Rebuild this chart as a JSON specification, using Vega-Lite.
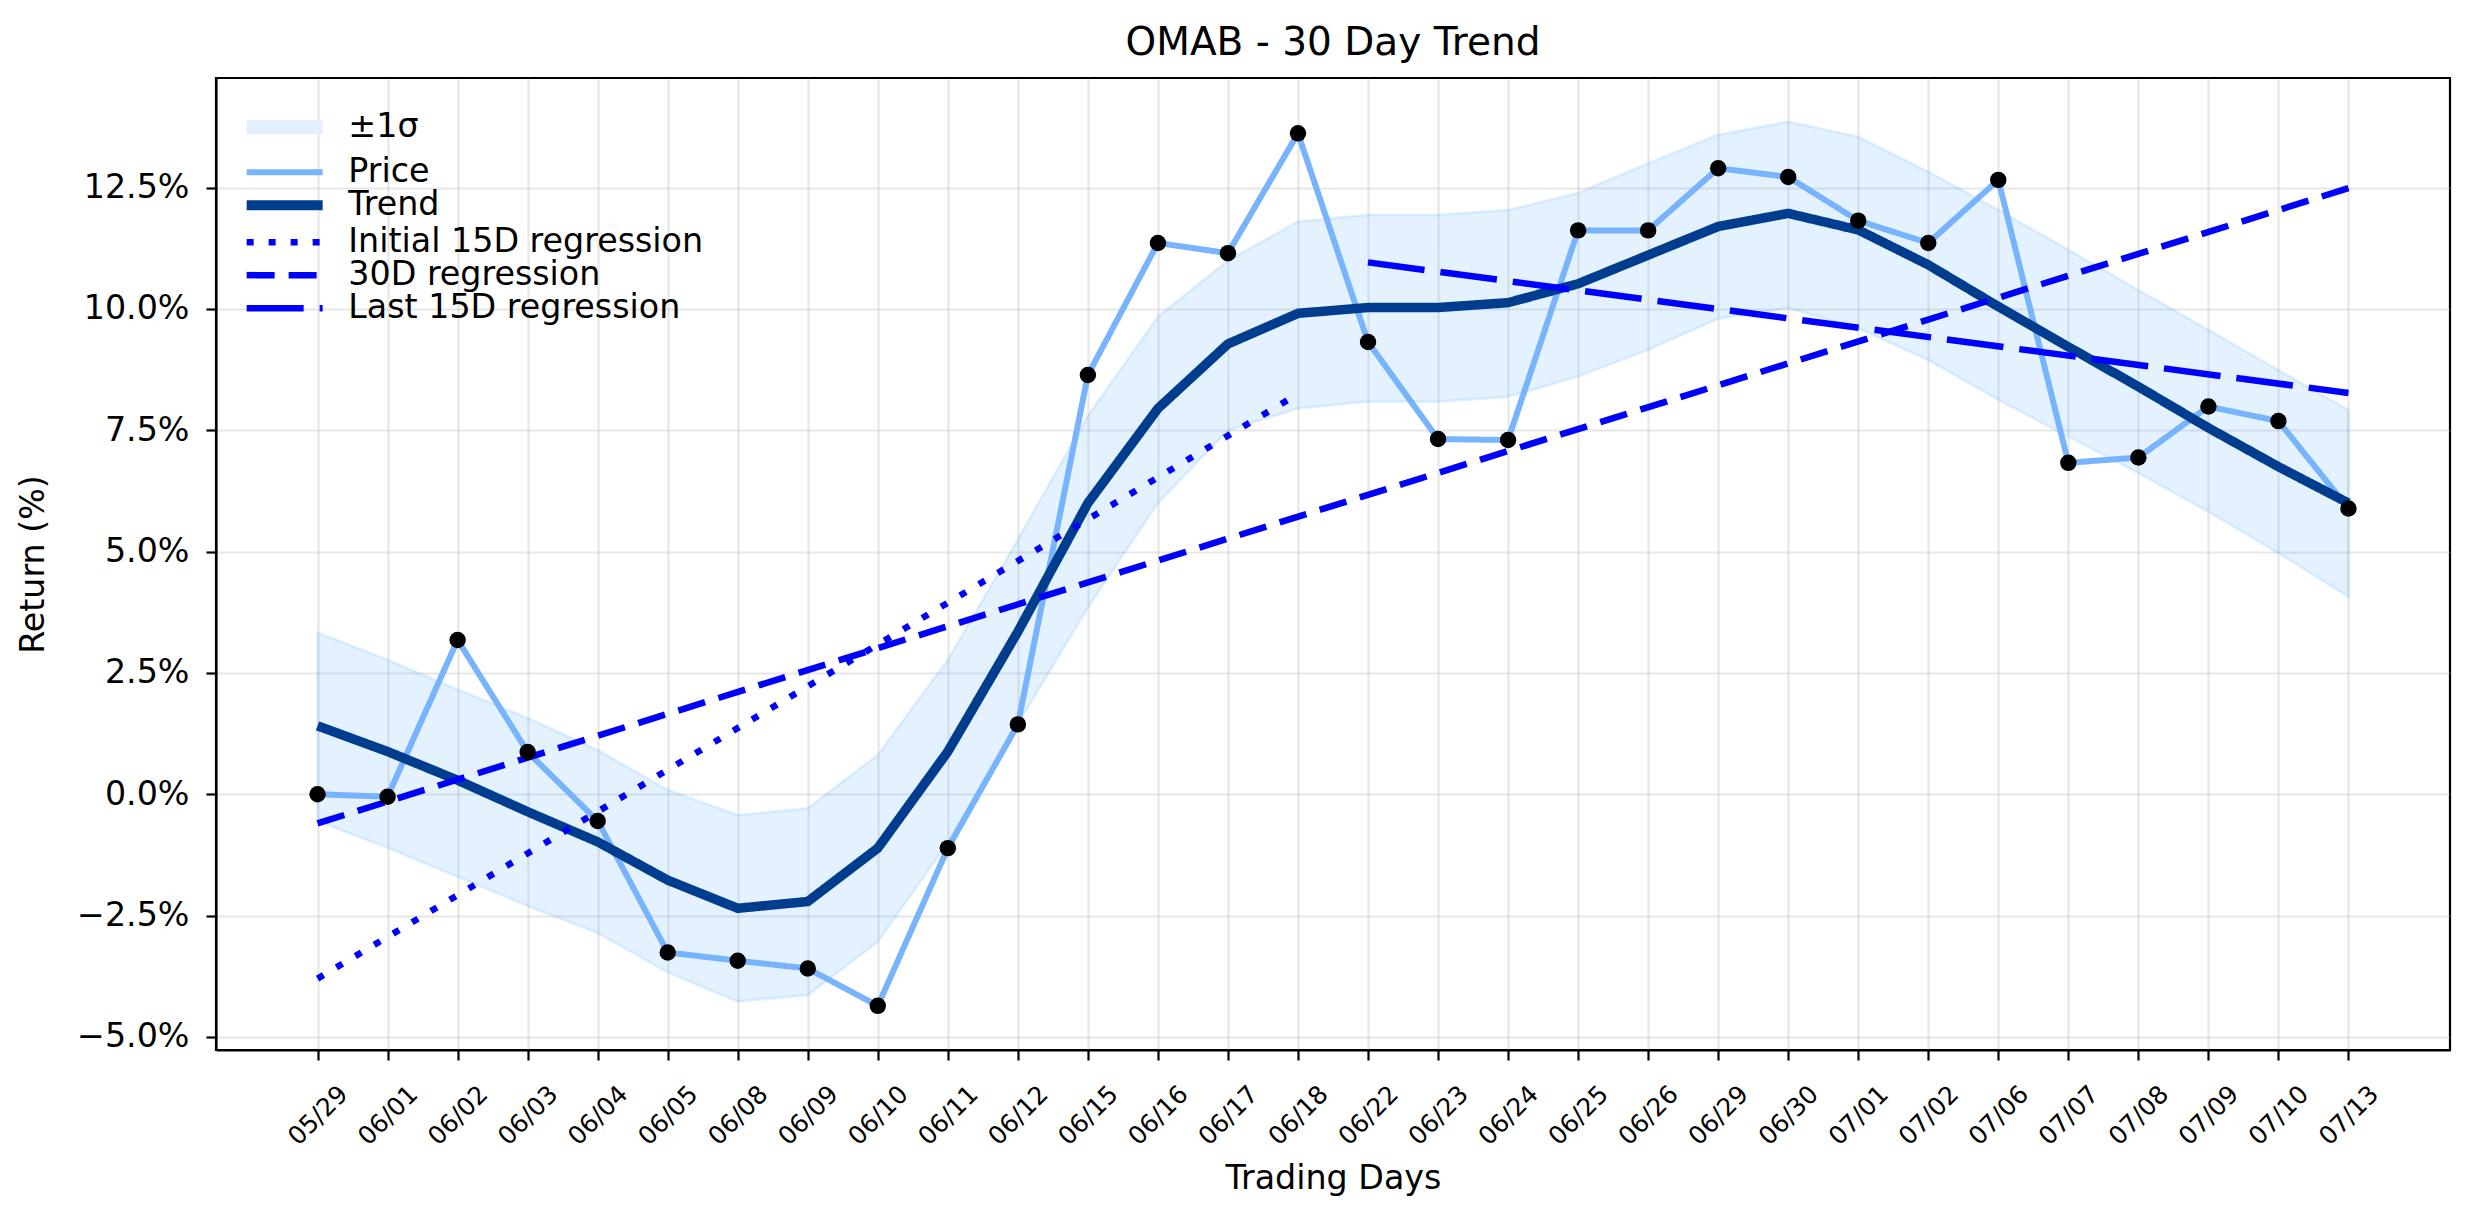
{
  "$schema": "https://vega.github.io/schema/vega-lite/v6.json",
  "autosize": {"type": "none"},
  "padding": {"left": 216, "top": 78, "right": 24, "bottom": 174},
  "width": 2234,
  "height": 972,
  "title": {"text": "OMAB - 30 Day Trend", "fontSize": 39, "fontWeight": "normal", "font": "DejaVu Sans", "anchor": "middle", "offset": 12, "baseline": "bottom", "dy": 36, "color": "black"},
  "config": {
    "font": "DejaVu Sans",
    "view": {"stroke": "black", "strokeWidth": 2.2},
    "axis": {"domain": true, "domainColor": "black", "domainWidth": 2.2, "tickColor": "black", "tickWidth": 2.2, "tickSize": 10, "labelColor": "black", "titleColor": "black", "titleFontWeight": "normal", "titleFont": "DejaVu Sans", "labelFont": "DejaVu Sans", "gridColor": "#b0b0b0", "gridOpacity": 0.3, "gridWidth": 2.2}
  },
  "datasets": {
    "main": [
      {"i": 0, "d": "05/29", "price": 0.00, "trend": 1.41, "lo": -0.55, "hi": 3.33},
      {"i": 1, "d": "06/01", "price": -0.05, "trend": 0.88, "lo": -1.10, "hi": 2.77},
      {"i": 2, "d": "06/02", "price": 3.18, "trend": 0.29, "lo": -1.70, "hi": 2.16},
      {"i": 3, "d": "06/03", "price": 0.87, "trend": -0.36, "lo": -2.30, "hi": 1.57},
      {"i": 4, "d": "06/04", "price": -0.55, "trend": -0.98, "lo": -2.86, "hi": 0.91},
      {"i": 5, "d": "06/05", "price": -3.26, "trend": -1.77, "lo": -3.67, "hi": 0.09},
      {"i": 6, "d": "06/08", "price": -3.43, "trend": -2.35, "lo": -4.27, "hi": -0.43},
      {"i": 7, "d": "06/09", "price": -3.59, "trend": -2.21, "lo": -4.14, "hi": -0.29},
      {"i": 8, "d": "06/10", "price": -4.36, "trend": -1.11, "lo": -3.04, "hi": 0.81},
      {"i": 9, "d": "06/11", "price": -1.11, "trend": 0.88, "lo": -1.00, "hi": 2.77},
      {"i": 10, "d": "06/12", "price": 1.44, "trend": 3.35, "lo": 1.45, "hi": 5.25},
      {"i": 11, "d": "06/15", "price": 8.64, "trend": 6.00, "lo": 3.85, "hi": 7.80},
      {"i": 12, "d": "06/16", "price": 11.36, "trend": 7.95, "lo": 6.00, "hi": 9.84},
      {"i": 13, "d": "06/17", "price": 11.15, "trend": 9.28, "lo": 7.50, "hi": 11.00},
      {"i": 14, "d": "06/18", "price": 13.62, "trend": 9.91, "lo": 7.95, "hi": 11.80},
      {"i": 15, "d": "06/22", "price": 9.32, "trend": 10.03, "lo": 8.09, "hi": 11.94},
      {"i": 16, "d": "06/23", "price": 7.32, "trend": 10.03, "lo": 8.09, "hi": 11.94},
      {"i": 17, "d": "06/24", "price": 7.30, "trend": 10.13, "lo": 8.19, "hi": 12.04},
      {"i": 18, "d": "06/25", "price": 11.62, "trend": 10.52, "lo": 8.61, "hi": 12.39},
      {"i": 19, "d": "06/26", "price": 11.62, "trend": 11.11, "lo": 9.16, "hi": 13.00},
      {"i": 20, "d": "06/29", "price": 12.90, "trend": 11.70, "lo": 9.80, "hi": 13.59},
      {"i": 21, "d": "06/30", "price": 12.72, "trend": 11.97, "lo": 10.02, "hi": 13.86},
      {"i": 22, "d": "07/01", "price": 11.82, "trend": 11.63, "lo": 9.60, "hi": 13.55},
      {"i": 23, "d": "07/02", "price": 11.36, "trend": 10.91, "lo": 8.95, "hi": 12.83},
      {"i": 24, "d": "07/06", "price": 12.66, "trend": 10.05, "lo": 8.13, "hi": 12.04},
      {"i": 25, "d": "07/07", "price": 6.83, "trend": 9.22, "lo": 7.37, "hi": 11.22},
      {"i": 26, "d": "07/08", "price": 6.94, "trend": 8.40, "lo": 6.62, "hi": 10.39},
      {"i": 27, "d": "07/09", "price": 7.99, "trend": 7.55, "lo": 5.82, "hi": 9.57},
      {"i": 28, "d": "07/10", "price": 7.69, "trend": 6.75, "lo": 4.97, "hi": 8.74},
      {"i": 29, "d": "07/13", "price": 5.89, "trend": 6.00, "lo": 4.07, "hi": 7.92}
    ],
    "reg": [
      {"i": 0, "d": "05/29", "series": "Initial 15D regression", "v": -3.80},
      {"i": 14, "d": "06/18", "series": "Initial 15D regression", "v": 8.25},
      {"i": 0, "d": "05/29", "series": "30D regression", "v": -0.60},
      {"i": 29, "d": "07/13", "series": "30D regression", "v": 12.49},
      {"i": 15, "d": "06/22", "series": "Last 15D regression", "v": 10.96},
      {"i": 29, "d": "07/13", "series": "Last 15D regression", "v": 8.27}
    ]
  },
  "encoding": {
    "x": {
      "field": "i", "type": "quantitative",
      "scale": {"domain": [-1.45, 30.45], "nice": false, "zero": false},
      "axis": {"title": "Trading Days", "titleFontSize": 33.3, "titlePadding": 13,
        "values": [0,1,2,3,4,5,6,7,8,9,10,11,12,13,14,15,16,17,18,19,20,21,22,23,24,25,26,27,28,29],
        "labelExpr": "['05/29','06/01','06/02','06/03','06/04','06/05','06/08','06/09','06/10','06/11','06/12','06/15','06/16','06/17','06/18','06/22','06/23','06/24','06/25','06/26','06/29','06/30','07/01','07/02','07/06','07/07','07/08','07/09','07/10','07/13'][datum.value]",
        "labelAngle": -45, "labelAlign": "center", "labelBaseline": "middle", "labelFontSize": 25, "labelPadding": 55, "labelOverlap": false, "labelFlush": false, "labelBound": false, "grid": true}
    }
  },
  "layer": [
    {
      "data": {"name": "main"},
      "mark": {"type": "area", "fill": "#4da6ff", "fillOpacity": 0.15, "stroke": "#4da6ff", "strokeOpacity": 0.15, "strokeWidth": 2.8},
      "encoding": {
        "y": {"field": "lo", "type": "quantitative", "scale": {"domain": [-5.27, 14.76], "nice": false, "zero": false},
          "axis": {"title": "Return (%)", "titleFontSize": 33.3, "titlePadding": 26, "values": [-5, -2.5, 0, 2.5, 5, 7.5, 10, 12.5], "labelExpr": "format(datum.value, '.1f') + '%'", "labelFontSize": 33.3, "labelPadding": 17, "grid": true}},
        "y2": {"field": "hi"}
      }
    },
    {
      "mark": {"type": "rule", "color": "#808080", "strokeWidth": 3.2, "strokeDash": [15, 7]},
      "encoding": {"y": {"datum": 0, "type": "quantitative", "title": "Return (%)"}, "x": null}
    },
    {
      "data": {"name": "main"},
      "mark": {"type": "line", "strokeJoin": "round", "strokeWidth": 6},
      "encoding": {
        "y": {"field": "price", "type": "quantitative", "title": "Return (%)"},
        "color": {
          "datum": "Price", "type": "nominal",
          "scale": {"domain": ["±1σ", "Price", "Trend", "Initial 15D regression", "30D regression", "Last 15D regression"], "range": ["#e3effd", "#78b4fd", "#003d8f", "#0000ff", "#0000ff", "#0000ff"]},
          "legend": {"title": null, "orient": "none", "legendX": 52, "legendY": 32.5, "padding": 0,
            "labelFontSize": 33.3, "labelFont": "DejaVu Sans", "labelColor": "black", "labelLimit": 0,
            "symbolType": "stroke", "symbolSize": 5776, "symbolStrokeWidth": 6.5, "labelOffset": 47, "rowPadding": -20, "symbolLimit": 0, "symbolOpacity": 1,
            "encode": {"symbols": {"update": {
              "fill": {"value": "transparent"},
              "strokeWidth": {"signal": "datum.value === '±1σ' ? 14 : datum.value === 'Trend' ? 10 : datum.value === 'Price' ? 6 : 6.5"}
            }}}
          }
        },
        "strokeDash": {
          "datum": "Price", "type": "nominal",
          "scale": {"domain": ["±1σ", "Price", "Trend", "Initial 15D regression", "30D regression", "Last 15D regression"], "range": [[1, 0], [1, 0], [1, 0], [7, 15], [28, 14], [57, 16]]},
          "legend": {"title": null}
        }
      }
    },
    {
      "data": {"name": "main"},
      "mark": {"type": "line", "strokeJoin": "round", "strokeWidth": 9.5},
      "encoding": {
        "y": {"field": "trend", "type": "quantitative", "title": "Return (%)"},
        "color": {"datum": "Trend", "type": "nominal"},
        "strokeDash": {"datum": "Trend", "type": "nominal"}
      }
    },
    {
      "data": {"name": "reg"},
      "transform": [{"filter": "datum.series === 'Initial 15D regression'"}],
      "mark": {"type": "line", "strokeWidth": 6.5},
      "encoding": {
        "y": {"field": "v", "type": "quantitative", "title": "Return (%)"},
        "color": {"datum": "Initial 15D regression", "type": "nominal"},
        "strokeDash": {"datum": "Initial 15D regression", "type": "nominal"}
      }
    },
    {
      "data": {"name": "reg"},
      "transform": [{"filter": "datum.series === '30D regression'"}],
      "mark": {"type": "line", "strokeWidth": 6.5},
      "encoding": {
        "y": {"field": "v", "type": "quantitative", "title": "Return (%)"},
        "color": {"datum": "30D regression", "type": "nominal"},
        "strokeDash": {"datum": "30D regression", "type": "nominal"}
      }
    },
    {
      "data": {"name": "reg"},
      "transform": [{"filter": "datum.series === 'Last 15D regression'"}],
      "mark": {"type": "line", "strokeWidth": 6.5},
      "encoding": {
        "y": {"field": "v", "type": "quantitative", "title": "Return (%)"},
        "color": {"datum": "Last 15D regression", "type": "nominal"},
        "strokeDash": {"datum": "Last 15D regression", "type": "nominal"}
      }
    },
    {
      "data": {"name": "main"},
      "mark": {"type": "circle", "color": "black", "size": 270, "opacity": 1},
      "encoding": {
        "y": {"field": "price", "type": "quantitative", "title": "Return (%)"}
      }
    }
  ]
}
